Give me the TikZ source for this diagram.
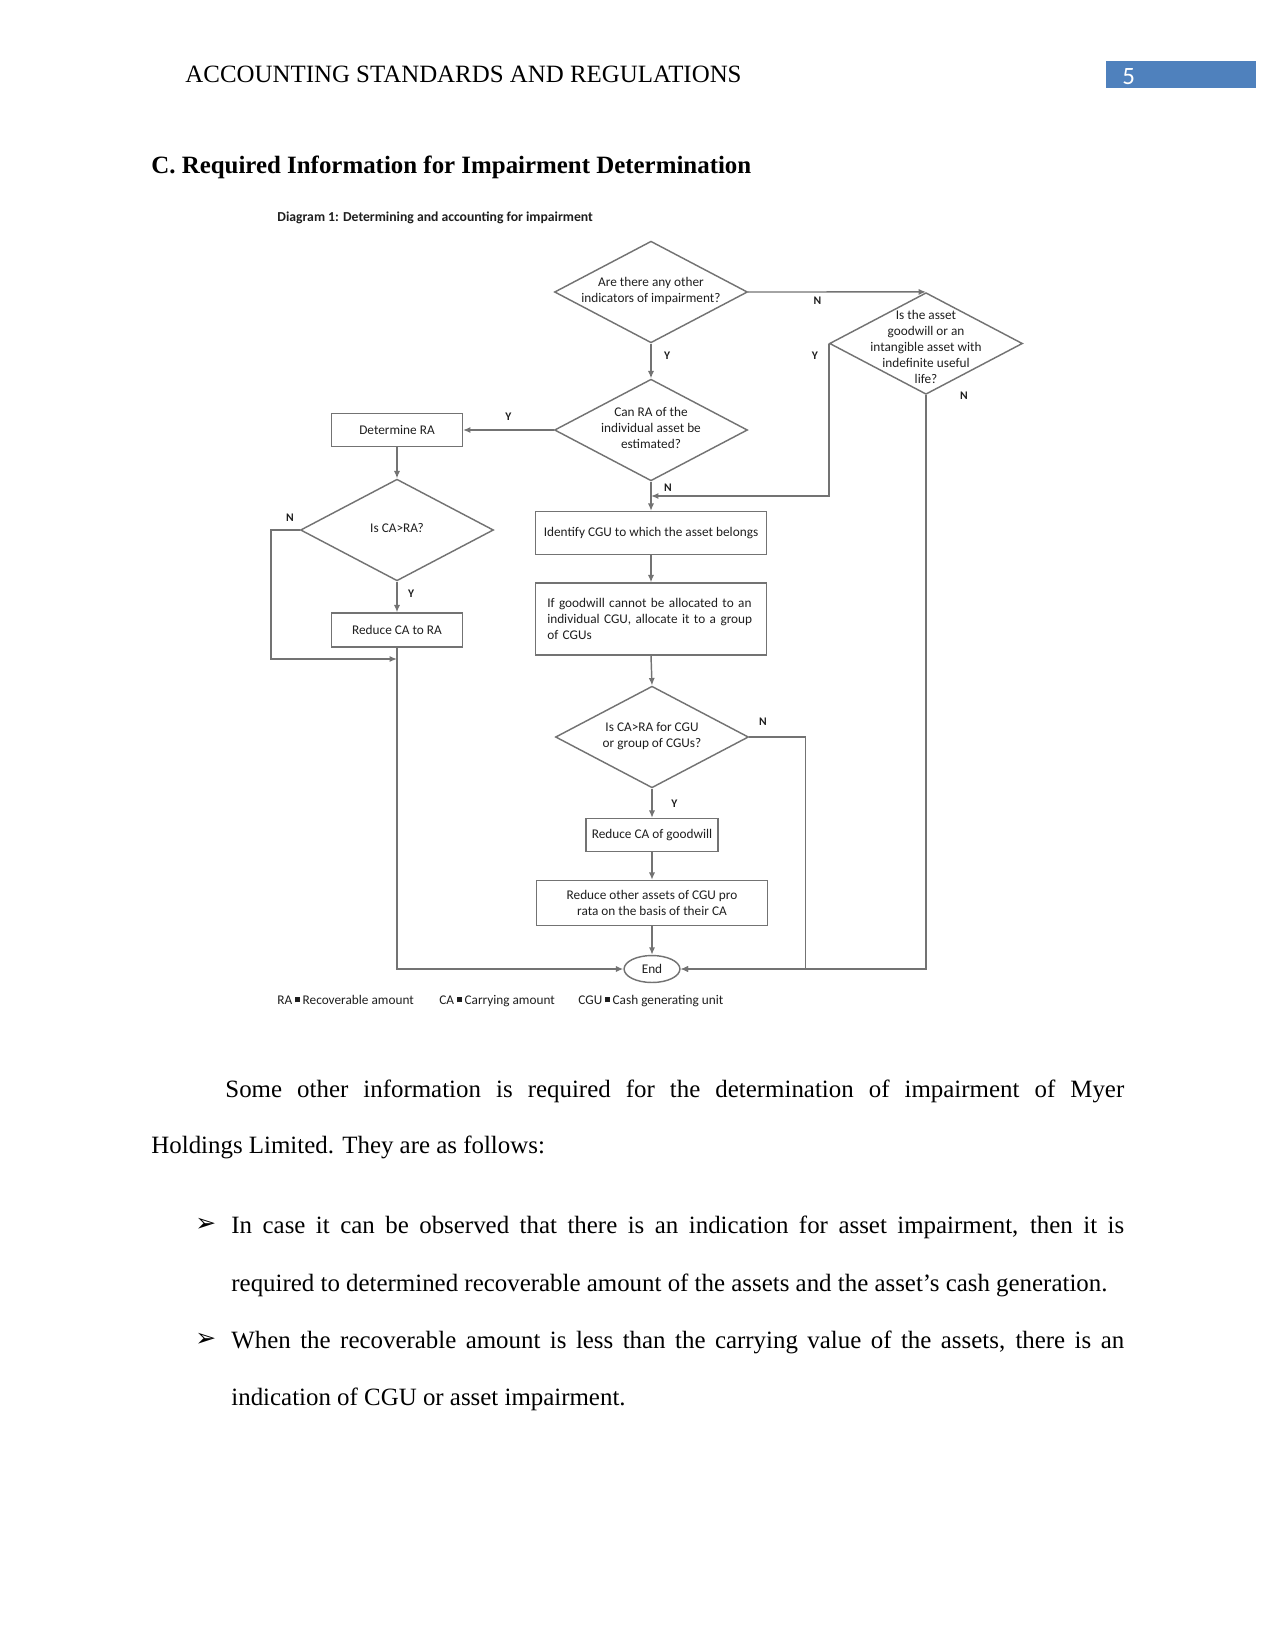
\documentclass[tikz,border=0pt]{standalone}
\usepackage{fontspec}
\setmainfont{Liberation Serif}
\newfontfamily\diafont{Carlito}
\newfontfamily\symfont{DejaVu Sans}
\usepackage{tikz}
\usetikzlibrary{arrows.meta, positioning, shapes.geometric}
\definecolor{linec}{RGB}{115,115,115}
\definecolor{txtc}{RGB}{30,30,30}
\definecolor{pgblue}{RGB}{79,129,189}
\newcommand{\dtext}[2][0pt]{\makebox[0pt]{\raisebox{\dimexpr-2pt+#1\relax}{\smash{\begin{tabular}{@{}c@{}}#2\end{tabular}}}}}
\newcommand{\sq}{\hspace{1.2pt}\rule[0.8pt]{2.6pt}{2.6pt}\hspace{1.2pt}}

\begin{document}
\begin{tikzpicture}[x=0.0169333cm, y=-0.0169333cm,
  every node/.style={font=\diafont\fontsize{6.4}{7.8}\selectfont, text=txtc},
  dia/.style={diamond, draw=linec, line width=0.7pt, aspect=1.9, inner sep=0pt,
    minimum width=93pt, minimum height=49pt},
  box/.style={rectangle, draw=linec, line width=0.7pt, inner sep=2pt, align=center},
  arr/.style={draw=linec, line width=0.7pt, -{Latex[length=3.6pt, width=3pt]}},
  yn/.style={font=\diafont\bfseries\fontsize{5.6}{6}\selectfont, inner sep=1pt},
  body/.style={font=\fontsize{12}{14}\selectfont, text=black, inner sep=0pt, anchor=base west}]
  \useasboundingbox (0,0) rectangle (1275,1650);

  % page header
  \fill[pgblue] (1106,61) rectangle (1256,88);
  \node[body] (hdr) at (185,82) {ACCOUNTING STANDARDS AND REGULATIONS};
  \node[body, text=white, font=\diafont\fontsize{12}{14}\selectfont] (pgno) at (1122,84) {5};
  \node[body, font=\bfseries\fontsize{12}{14}\selectfont] (sec) at (151,173)
    {C. Required Information for Impairment Determination};

  % diagram
  \node[anchor=base west, inner sep=0pt, font=\diafont\bfseries\fontsize{6.6}{7}\selectfont]
    (dtitle) at (277,221) {Diagram 1: Determining and accounting for impairment};

  \node[dia] (q1) at (651,292) {\dtext{Are there any other\\indicators of impairment?}};
  \node[dia] (q4) at (926,343.5) {\dtext[-5.5pt]{\fontsize{6.4}{7.3}\selectfont Is the asset\\goodwill or an\\intangible asset with\\indefinite useful\\life?}};
  \node[dia] (q2) at (651,430) {\dtext{Can RA of the\\individual asset be\\estimated?}};
  \node[box, minimum width=62.9pt, minimum height=15.8pt] (detra) at (397,430) {Determine RA};
  \node[dia] (q3) at (397,530) {\dtext{Is CA>RA?}};
  \node[box, minimum width=62.9pt, minimum height=16.3pt] (redra) at (397,630) {Reduce CA to RA};
  \node[box, minimum width=111.4pt, minimum height=20.6pt] (cgu) at (651,533)
    {Identify CGU to which the asset belongs};
  \node[box, minimum width=111.4pt, minimum height=34.6pt, text width=100pt, align=left]
    (grp) at (651,619) {If goodwill cannot be allocated to an\\individual CGU, allocate it to a group\\of CGUs};
  \node[dia] (q5) at (652,737) {\dtext{Is CA>RA for CGU\\or group of CGUs?}};
  \node[box, minimum width=63.4pt, minimum height=15.8pt] (redgw) at (652,835) {Reduce CA of goodwill};
  \node[box, minimum width=111.4pt, minimum height=21.6pt] (redoth) at (652,903)
    {Reduce other assets of CGU pro\\rata on the basis of their CA};
  \node[ellipse, draw=linec, line width=0.7pt, inner sep=0pt, minimum width=26.9pt,
    minimum height=13pt] (fin) at (652,969) {End};

  \coordinate (j1) at (651,496);
  \coordinate (j2) at (397,659);

  \draw[arr] (q1.south) -- node[yn, pos=0.35, right=5pt] (lq1y) {Y} (q2.north);
  \draw[arr] (q1.east) -- node[yn, pos=0.39, below=1pt] (lq1n) {N} (q4.north);
  \draw[arr] (q2.west) -- node[yn, above=3pt] (lq2y) {Y} (detra.east);
  \draw[arr] (q2.south) -- node[yn, pos=0.2, right=5pt] (lq2n) {N} (cgu.north);
  \draw[arr] (q4.west) |- (j1);
  \node[yn] (lq4y) at (815,356) {Y};
  \draw[arr] (q4.south) |- (fin.east);
  \node[yn] (lq4n) at (964,396) {N};
  \draw[arr] (detra.south) -- (q3.north);
  \draw[arr] (q3.south) -- node[yn, pos=0.4, right=4pt] (lq3y) {Y} (redra.north);
  \draw[arr] (q3.west) -- ++(-29,0) |- (j2);
  \node[yn] (lq3n) at (290,518) {N};
  \draw[arr] (redra.south) |- (fin.west);
  \draw[arr] (cgu.south) -- (grp.north);
  \draw[arr] (grp.south) -- (q5.north);
  \draw[arr] (q5.south) -- node[yn, pos=0.5, right=8pt] (lq5y) {Y} (redgw.north);
  \draw[arr] (redgw.south) -- (redoth.north);
  \draw[arr] (redoth.south) -- (fin.north);
  \draw[arr] (q5.east) -- ++(56,0) |- (fin.east);
  \node[yn] (lq5n) at (763,722) {N};

  % legend
  \node[anchor=base west, inner sep=0pt] (lgra) at (277,1004) {RA\sq Recoverable amount};
  \node[anchor=base west, inner sep=0pt] (lgca) at (439,1004) {CA\sq Carrying amount};
  \node[anchor=base west, inner sep=0pt] (lgcgu) at (578,1004) {CGU\sq Cash generating unit};

  % body text
  \node[body] (p1) at (225,1097)
    {\makebox[15.223cm][s]{Some other information is required for the determination of impairment of Myer}};
  \node[body] (p2) at (151,1153) {Holdings Limited. They are as follows:};
  \node[body, font=\symfont\fontsize{12}{14}\selectfont] (b1) at (195,1231) {➢};
  \node[body] (b1a) at (231,1233)
    {\makebox[15.121cm][s]{In case it can be observed that there is an indication for asset impairment, then it is}};
  \node[body] (b1b) at (231,1291)
    {required to determined recoverable amount of the assets and the asset’s cash generation.};
  \node[body, font=\symfont\fontsize{12}{14}\selectfont] (b2) at (195,1346) {➢};
  \node[body] (b2a) at (231,1348)
    {\makebox[15.121cm][s]{When the recoverable amount is less than the carrying value of the assets, there is an}};
  \node[body] (b2b) at (231,1405) {indication of CGU or asset impairment.};
\end{tikzpicture}
\end{document}
